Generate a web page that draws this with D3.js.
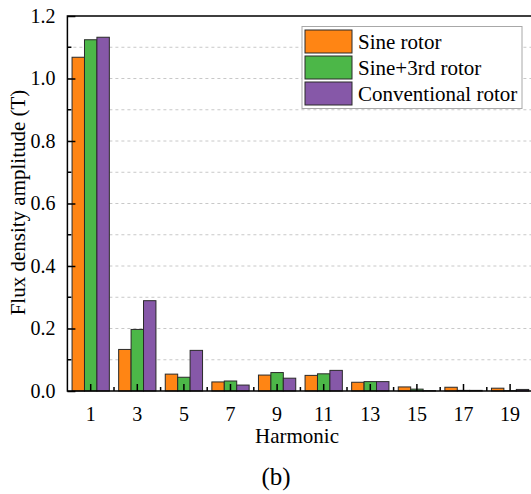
<!DOCTYPE html>
<html>
<head>
<meta charset="utf-8">
<script src="https://cdn.jsdelivr.net/npm/d3@7/dist/d3.min.js"></script>
<style>
  html, body { margin: 0; padding: 0; background: #fff; }
  svg { display: block; font-family: "Liberation Serif", "Times New Roman", "DejaVu Serif", serif; }
</style>
</head>
<body>
<script>
// Harmonic orders on the x axis
const harmonics = ["1", "3", "5", "7", "9", "11", "13", "15", "17", "19"];
// Rotor designs (one bar each per harmonic)
const seriesNames = ["Sine rotor", "Sine+3rd rotor", "Conventional rotor"];
const seriesColors = ["#FF8514", "#4CB748", "#8658A8"];
// Flux density amplitude (T) per harmonic
const sineRotor = [1.068, 0.133, 0.054, 0.029, 0.051, 0.050, 0.028, 0.013, 0.012, 0.009];
const sine3rdRotor = [1.124, 0.197, 0.044, 0.032, 0.059, 0.055, 0.030, 0.006, 0.002, 0.001];
const conventionalRotor = [1.132, 0.289, 0.130, 0.019, 0.041, 0.066, 0.030, 0.001, 0.002, 0.005];
const yTicks = [0.0, 0.2, 0.4, 0.6, 0.8, 1.0, 1.2];
const yMinorTicks = [0.1, 0.3, 0.5, 0.7, 0.9, 1.1];

const seriesValues = [sineRotor, sine3rdRotor, conventionalRotor];
const serifFont = "Liberation Serif, Times New Roman, DejaVu Serif, serif";

const W = 531, H = 494;
const plotLeft = 67.4, plotRight = 533.4, plotTop = 16, plotBottom = 391;

const svg = d3.select("body").append("svg").attr("width", W).attr("height", H);
svg.append("rect").attr("width", W).attr("height", H).attr("fill", "#fff");

const y = d3.scaleLinear().domain([0, 1.2]).range([plotBottom, plotTop]);
const x0 = d3.scaleBand().domain(harmonics).range([plotLeft, plotRight])
  .paddingInner(0.2).paddingOuter(0.1);
const x1 = d3.scaleBand().domain(seriesNames).range([0, x0.bandwidth()]);
const step = x0.step();

// dashed horizontal grid at every 0.1
svg.append("g").selectAll("line")
  .data(yTicks.concat(yMinorTicks).filter(v => v > 0 && v < 1.2))
  .join("line")
  .attr("x1", plotLeft).attr("x2", plotRight)
  .attr("y1", d => y(d)).attr("y2", d => y(d))
  .attr("stroke", "#c8c8c8").attr("stroke-width", 1)
  .attr("stroke-dasharray", "3,3");

// bars
const groups = svg.append("g").selectAll("g")
  .data(harmonics)
  .join("g")
  .attr("transform", d => `translate(${x0(d)},0)`);

groups.selectAll("rect")
  .data((d, i) => seriesNames.map((s, j) => ({ s, j, v: seriesValues[j][i] })))
  .join("rect")
  .attr("x", d => x1(d.s))
  .attr("width", x1.bandwidth())
  .attr("y", d => y(d.v))
  .attr("height", d => y(0) - y(d.v))
  .attr("fill", d => seriesColors[d.j])
  .attr("stroke", "#2a2a2a")
  .attr("stroke-width", 1);

// axes
const yAxis = d3.axisLeft(y).tickValues(yTicks).tickFormat(d3.format(".1f"))
  .tickSizeInner(-8).tickSizeOuter(0).tickPadding(12);
const gy = svg.append("g").attr("transform", `translate(${plotLeft},0)`).call(yAxis)
  .attr("font-family", serifFont);
gy.select(".domain").remove();
gy.selectAll(".tick line").attr("stroke", "#000").attr("stroke-width", 1.5);
gy.selectAll(".tick text").attr("font-size", 20).attr("fill", "#000");
// minor y ticks
svg.append("g").selectAll("line").data(yMinorTicks).join("line")
  .attr("x1", plotLeft).attr("x2", plotLeft + 4)
  .attr("y1", d => y(d)).attr("y2", d => y(d))
  .attr("stroke", "#000").attr("stroke-width", 1.5);

const xAxis = d3.axisBottom(x0).tickSizeInner(-7).tickSizeOuter(0).tickPadding(16);
const gx = svg.append("g").attr("transform", `translate(0,${plotBottom})`).call(xAxis)
  .attr("font-family", serifFont);
gx.select(".domain").remove();
gx.selectAll(".tick line").attr("stroke", "#000").attr("stroke-width", 1.5);
gx.selectAll(".tick text").attr("font-size", 20).attr("fill", "#000");
// minor x ticks between groups
svg.append("g").selectAll("line").data(d3.range(1, harmonics.length)).join("line")
  .attr("x1", k => plotLeft + k * step).attr("x2", k => plotLeft + k * step)
  .attr("y1", plotBottom).attr("y2", plotBottom - 4)
  .attr("stroke", "#000").attr("stroke-width", 1.5);

// frame
svg.append("path")
  .attr("d", `M${plotRight},${plotTop}H${plotLeft}V${plotBottom}H${plotRight}`)
  .attr("fill", "none").attr("stroke", "#000").attr("stroke-width", 1.5);

// axis titles
svg.append("text")
  .attr("transform", `translate(25,${(plotTop + plotBottom) / 2 - 1}) rotate(-90)`)
  .attr("text-anchor", "middle").attr("font-size", 21).attr("fill", "#000")
  .text("Flux density amplitude (T)");
svg.append("text")
  .attr("x", 297).attr("y", 443)
  .attr("text-anchor", "middle").attr("font-size", 21).attr("fill", "#000")
  .text("Harmonic");
svg.append("text")
  .attr("x", 276).attr("y", 485)
  .attr("text-anchor", "middle").attr("font-size", 25).attr("fill", "#000")
  .text("(b)");

// legend
const lg = svg.append("g").attr("transform", "translate(302,26.5)");
lg.append("rect").attr("width", 220).attr("height", 82)
  .attr("fill", "#fff").attr("stroke", "#a8a8a8").attr("stroke-width", 1);
const items = lg.selectAll("g.item").data(seriesNames).join("g")
  .attr("class", "item")
  .attr("transform", (d, i) => `translate(3,${3.5 + i * 26})`);
items.append("rect").attr("width", 47).attr("height", 23)
  .attr("fill", (d, i) => seriesColors[i]).attr("stroke", "#2a2a2a").attr("stroke-width", 1);
items.append("text").attr("x", 53).attr("y", 18.5)
  .attr("font-size", 21).attr("fill", "#000").text(d => d);
</script>
</body>
</html>
